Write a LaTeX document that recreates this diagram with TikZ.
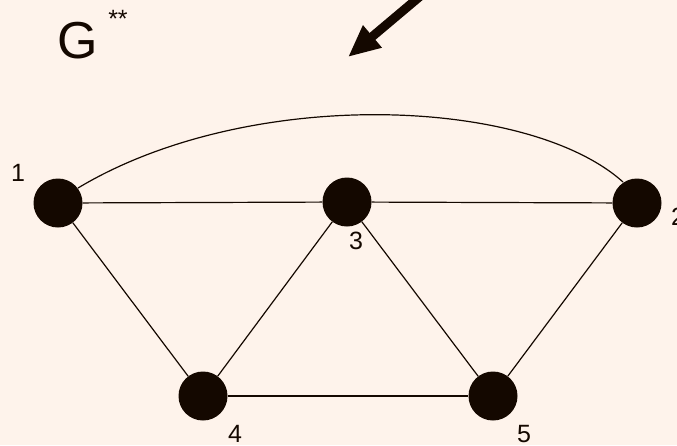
\documentclass[tikz,border=0pt]{standalone}
\usepackage{fontspec}
\setmainfont{Liberation Sans}
\usetikzlibrary{arrows.meta}
\definecolor{bg}{HTML}{FEF3EB}
\definecolor{ink}{HTML}{140800}
\tikzset{
  vert/.style={circle,fill=ink,draw=none,minimum size=49pt,inner sep=0pt},
  lbl/.style={inner sep=0pt,text=ink,font=\fontsize{25}{28}\selectfont},
  edge/.style={draw=ink,line width=1.2pt},
  bigarrow/.style={draw=ink,line width=9pt,-{Triangle[length=32pt,width=27pt]}}
}
\begin{document}
\begin{tikzpicture}[x=1pt,y=-1pt]
\fill[bg] (0,0) rectangle (677,445);
\useasboundingbox (0,0) rectangle (677,445);
\node[vert] (v1) at (58,203) {};
\node[vert] (v2) at (637,203) {};
\node[vert] (v3) at (347,202) {};
\node[vert] (v4) at (203,396) {};
\node[vert] (v5) at (493,396) {};
\node[lbl] (l1) at (18,173) {1};
\node[lbl] (l2) at (678,217) {2};
\node[lbl] (l3) at (356,241) {3};
\node[lbl] (l4) at (235,434) {4};
\node[lbl] (l5) at (524,434) {5};
\node[inner sep=0pt,text=ink,font=\fontsize{52}{56}\selectfont] (g) at (78,41) {G};
\node[lbl] (st) at (118,19) {**};
\coordinate (as) at (424,-7);
\coordinate (at) at (348,57);
\draw[bigarrow] (as) -- (at);
\draw[edge] (v1) -- (v3);
\draw[edge] (v3) -- (v2);
\draw[edge] (v1) -- (v4);
\draw[edge] (v4) -- (v3);
\draw[edge] (v3) -- (v5);
\draw[edge] (v4) -- (v5);
\draw[edge] (v5) -- (v2);
\draw[edge] (78,188) .. controls (248,86) and (528,96.5) .. (623,182);
\end{tikzpicture}
\end{document}
